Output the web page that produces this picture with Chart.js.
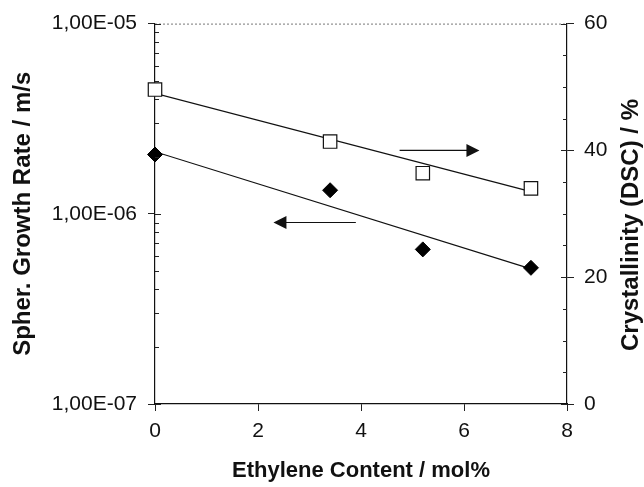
<!DOCTYPE html>
<html>
<head>
<meta charset="utf-8">
<script src="https://cdn.jsdelivr.net/npm/chart.js@4"></script>
<style>
  body { margin: 0; background: #fff; }
  #wrap { width: 644px; height: 487px; position: relative; }
</style>
</head>
<body>
<div id="wrap"><canvas id="chart"></canvas></div>
<script>
// data
const ethylene = [0, 3.4, 5.2, 7.3]
const growthRate = [2.05e-6, 1.33e-6, 6.5e-7, 5.2e-7]
const crystallinity = [49.6, 41.4, 36.4, 34.0]

// fitted lines (end points)
const trendX = [0, 7.3]
const growthTrend = [2.12e-6, 5.13e-7]
const crystTrend = [49.0, 33.5]

const xTicks = [0, 2, 4, 6, 8]
const crystTicks = [0, 20, 40, 60]

// arrows: which axis each series belongs to
const arrows = [
  { from: 4.75, to: 6.3, value: 40, axis: 'y2' },
  { from: 3.9, to: 2.3, value: 9.0e-7, axis: 'y' }
]

const FONT = "'Liberation Sans', Arial, sans-serif"

function fmtSci(v) {
  let parts = v.toExponential(2).split('e')
  let n = parseInt(parts[1])
  return parts[0].replace('.', ',') + 'E' + (n < 0 ? '-' : '+') + String(Math.abs(n)).padStart(2, '0')
}
const isDecade = v => Math.abs(Math.log10(v) - Math.round(Math.log10(v))) < 1e-6

let decor = {
  id: 'decor',
  afterDatasetsDraw(chart) {
    const ctx = chart.ctx
    const xs = chart.scales.x
    ctx.save()
    ctx.strokeStyle = '#111'
    ctx.fillStyle = '#111'
    ctx.lineWidth = 1.2
    arrows.forEach(a => {
      let ys = chart.scales[a.axis]
      let y = ys.getPixelForValue(a.value)
      let x0 = xs.getPixelForValue(a.from)
      let x1 = xs.getPixelForValue(a.to)
      let dir = x1 > x0 ? 1 : -1
      ctx.beginPath()
      ctx.moveTo(x0, y)
      ctx.lineTo(x1 - dir * 12, y)
      ctx.stroke()
      ctx.beginPath()
      ctx.moveTo(x1, y)
      ctx.lineTo(x1 - dir * 13, y - 6.5)
      ctx.lineTo(x1 - dir * 13, y + 6.5)
      ctx.closePath()
      ctx.fill()
    })
    ctx.restore()
  },
  afterDraw(chart) {
    const ctx = chart.ctx
    const area = chart.chartArea
    ctx.save()
    // dotted top frame
    ctx.strokeStyle = '#777'
    ctx.lineWidth = 1
    ctx.setLineDash([2, 2])
    ctx.beginPath()
    ctx.moveTo(area.left, area.top + 0.5)
    ctx.lineTo(area.right, area.top + 0.5)
    ctx.stroke()
    ctx.setLineDash([])

    // inside tick marks
    ctx.strokeStyle = '#222'
    let left = chart.scales.y
    left.ticks.forEach(t => {
      let y = Math.round(left.getPixelForValue(t.value)) + 0.5
      let len = isDecade(t.value) ? 6 : 4
      ctx.beginPath()
      ctx.moveTo(area.left, y)
      ctx.lineTo(area.left + len, y)
      ctx.stroke()
    })
    let right = chart.scales.y2
    right.ticks.forEach(t => {
      let y = Math.round(right.getPixelForValue(t.value)) + 0.5
      let len = t.value % 20 === 0 ? 6 : 4
      ctx.beginPath()
      ctx.moveTo(area.right, y)
      ctx.lineTo(area.right - len, y)
      ctx.stroke()
    })

    // right axis title, reads bottom to top
    ctx.fillStyle = '#111'
    ctx.font = 'bold 24px ' + FONT
    ctx.textAlign = 'center'
    ctx.textBaseline = 'middle'
    ctx.translate(631, 225)
    ctx.rotate(-Math.PI / 2)
    ctx.fillText('Crystallinity (DSC) / %', 0, 0)
    ctx.restore()
  }
}

let chart = new Chart(document.getElementById('chart'), {
  type: 'scatter',
  data: {
    datasets: [
      {
        label: 'Crystallinity',
        data: ethylene.map((x, i) => ({ x: x, y: crystallinity[i] })),
        yAxisID: 'y2',
        clip: false,
        pointStyle: 'rect',
        pointRadius: 9.5,
        backgroundColor: '#fff',
        borderColor: '#111',
        borderWidth: 1.2
      },
      {
        label: 'Growth rate',
        data: ethylene.map((x, i) => ({ x: x, y: growthRate[i] })),
        yAxisID: 'y',
        clip: false,
        pointStyle: 'rectRot',
        pointRadius: 7.5,
        backgroundColor: '#000',
        borderColor: '#000',
        borderWidth: 1
      },
      {
        label: 'Crystallinity fit',
        data: trendX.map((x, i) => ({ x: x, y: crystTrend[i] })),
        yAxisID: 'y2',
        showLine: true,
        pointRadius: 0,
        borderColor: '#111',
        borderWidth: 1.2
      },
      {
        label: 'Growth fit',
        data: trendX.map((x, i) => ({ x: x, y: growthTrend[i] })),
        yAxisID: 'y',
        showLine: true,
        pointRadius: 0,
        borderColor: '#111',
        borderWidth: 1.2
      }
    ]
  },
  options: {
    responsive: true,
    maintainAspectRatio: false,
    animation: false,
    layout: { padding: { top: 22, right: 0, left: 0, bottom: 0 } },
    plugins: {
      legend: { display: false },
      tooltip: { enabled: false }
    },
    scales: {
      x: {
        type: 'linear',
        min: 0,
        max: 8,
        afterBuildTicks: s => { s.ticks = xTicks.map(v => ({ value: v })) },
        afterFit: s => { s.height = 83 },
        border: { color: '#111', width: 1.2 },
        grid: { display: true, drawOnChartArea: false, tickLength: 7, tickColor: '#222' },
        ticks: { color: '#111', font: { family: FONT, size: 21 }, padding: 8 },
        title: {
          display: true,
          text: 'Ethylene Content / mol%',
          color: '#111',
          font: { family: FONT, size: 22, weight: 'bold' },
          padding: { top: 0, bottom: 3 }
        }
      },
      y: {
        type: 'logarithmic',
        position: 'left',
        min: 1e-7,
        max: 1e-5,
        afterBuildTicks: s => {
          let list = []
          for (let e = -7; e < -5; e++) {
            for (let m = 1; m <= 9; m++) list.push({ value: Number((m * Math.pow(10, e)).toPrecision(3)) })
          }
          list.push({ value: 1e-5 })
          s.ticks = list
        },
        afterFit: s => { s.width = 155 },
        border: { color: '#111', width: 1.2 },
        grid: {
          display: true,
          drawOnChartArea: false,
          tickLength: 7,
          tickColor: c => (c.tick && isDecade(c.tick.value)) ? '#222' : 'rgba(0,0,0,0)'
        },
        ticks: {
          autoSkip: false,
          color: '#111',
          font: { family: FONT, size: 21 },
          padding: 11,
          callback: v => isDecade(v) ? fmtSci(v) : ''
        },
        title: {
          display: true,
          text: 'Spher. Growth Rate / m/s',
          color: '#111',
          font: { family: FONT, size: 24, weight: 'bold' },
          padding: { top: 9, bottom: 0 }
        }
      },
      y2: {
        type: 'linear',
        position: 'right',
        min: 0,
        max: 60,
        afterBuildTicks: s => {
          let list = []
          for (let v = 0; v <= 60; v += 5) list.push({ value: v })
          s.ticks = list
        },
        afterFit: s => { s.width = 77 },
        border: { color: '#111', width: 1.2 },
        grid: {
          display: true,
          drawOnChartArea: false,
          tickLength: 7,
          tickColor: c => (c.tick && crystTicks.includes(c.tick.value)) ? '#222' : 'rgba(0,0,0,0)'
        },
        ticks: {
          autoSkip: false,
          color: '#111',
          font: { family: FONT, size: 21 },
          padding: 10,
          callback: v => crystTicks.includes(v) ? String(v) : ''
        }
      }
    }
  },
  plugins: [decor]
})
</script>
</body>
</html>
